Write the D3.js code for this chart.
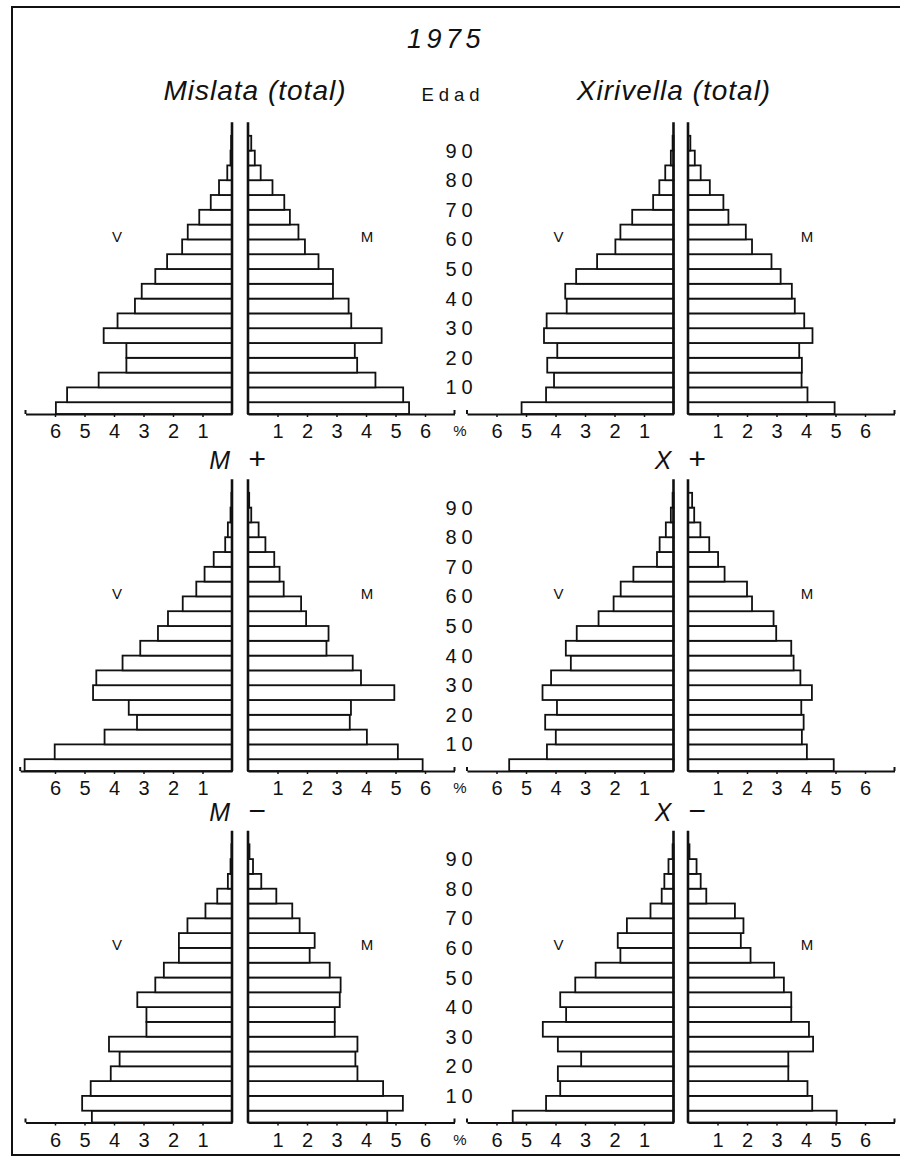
<!DOCTYPE html>
<html>
<head>
<meta charset="utf-8">
<script src="https://cdn.jsdelivr.net/npm/d3@7"></script>
<style>
  body { margin: 0; background: #fff; }
  text { font-family: "Liberation Sans", "DejaVu Sans", sans-serif; fill: #111; }
  .it { font-style: italic; }
</style>
</head>
<body>
<svg id="chart" width="900" height="1158"></svg>
<script>
// age groups (lower bound of each 5-year class)
var ageGroups = [0, 5, 10, 15, 20, 25, 30, 35, 40, 45, 50, 55, 60, 65, 70, 75, 80, 85, 90];
var ageLabels = [10, 20, 30, 40, 50, 60, 70, 80, 90];
var pctTicks = [1, 2, 3, 4, 5, 6];

// % of population, V = varones (left), M = mujeres (right)
var mislataV   = [5.97, 5.59, 4.52, 3.58, 3.58, 4.35, 3.88, 3.29, 3.06, 2.60, 2.20, 1.69, 1.50, 1.11, 0.72, 0.44, 0.16, 0.05, 0.03];
var mislataM   = [5.46, 5.26, 4.32, 3.70, 3.62, 4.53, 3.50, 3.41, 2.88, 2.88, 2.39, 1.93, 1.71, 1.42, 1.23, 0.83, 0.43, 0.23, 0.11];
var xirivellaV = [5.15, 4.32, 4.05, 4.28, 3.94, 4.39, 4.30, 3.62, 3.67, 3.30, 2.59, 1.97, 1.80, 1.40, 0.69, 0.48, 0.28, 0.09, 0.03];
var xirivellaM = [4.97, 4.05, 3.85, 3.86, 3.77, 4.22, 3.94, 3.62, 3.52, 3.14, 2.83, 2.17, 1.96, 1.37, 1.20, 0.74, 0.43, 0.23, 0.08];
var mPlusV     = [7.03, 6.01, 4.32, 3.22, 3.50, 4.71, 4.60, 3.71, 3.11, 2.51, 2.17, 1.67, 1.21, 0.93, 0.62, 0.23, 0.14, 0.05, 0.02];
var mPlusM     = [5.92, 5.08, 4.03, 3.45, 3.49, 4.96, 3.83, 3.55, 2.66, 2.73, 1.97, 1.80, 1.21, 1.07, 0.89, 0.59, 0.36, 0.11, 0.04];
var xPlusV     = [5.57, 4.29, 3.99, 4.35, 3.95, 4.44, 4.15, 3.48, 3.65, 3.28, 2.54, 2.03, 1.79, 1.36, 0.56, 0.47, 0.26, 0.09, 0.03];
var xPlusM     = [4.94, 4.03, 3.86, 3.92, 3.84, 4.20, 3.81, 3.58, 3.50, 2.99, 2.90, 2.17, 2.00, 1.24, 1.02, 0.72, 0.42, 0.21, 0.14];
var mMinusV    = [4.75, 5.08, 4.79, 4.11, 3.81, 4.17, 2.90, 2.90, 3.21, 2.60, 2.31, 1.80, 1.80, 1.51, 0.90, 0.50, 0.14, 0.05, 0.02];
var mMinusM    = [4.72, 5.25, 4.58, 3.71, 3.64, 3.71, 2.94, 2.94, 3.11, 3.14, 2.77, 2.09, 2.26, 1.75, 1.50, 0.96, 0.45, 0.17, 0.05];
var xMinusV    = [5.45, 4.32, 3.84, 3.92, 3.13, 3.92, 4.43, 3.64, 3.84, 3.33, 2.64, 1.80, 1.89, 1.58, 0.78, 0.40, 0.31, 0.17, 0.03];
var xMinusM    = [5.04, 4.21, 4.05, 3.40, 3.40, 4.24, 4.10, 3.50, 3.50, 3.25, 2.92, 2.12, 1.79, 1.88, 1.59, 0.62, 0.43, 0.29, 0.05];

var svg = d3.select("#chart");

var pxPerPct = 29.5, pxPerYear = 2.96;
var cols = [{ vx: 232, mx: 248 }, { vx: 673.5, mx: 688 }];
var rowBase = [414, 771, 1122.5];

var panels = [
  { col: 0, row: 0, v: mislataV,   m: mislataM,   title: "Mislata (total)",   tx: 255 },
  { col: 1, row: 0, v: xirivellaV, m: xirivellaM, title: "Xirivella (total)", tx: 674 },
  { col: 0, row: 1, v: mPlusV,  m: mPlusM,  letter: "M", sign: "+" },
  { col: 1, row: 1, v: xPlusV,  m: xPlusM,  letter: "X", sign: "+" },
  { col: 0, row: 2, v: mMinusV, m: mMinusM, letter: "M", sign: "\u2212" },
  { col: 1, row: 2, v: xMinusV, m: xMinusM, letter: "X", sign: "\u2212" }
];

// frame
svg.append("path")
  .attr("d", "M900,7H12V1155H900")
  .attr("fill", "none").attr("stroke", "#111").attr("stroke-width", 2);

svg.append("text").attr("class", "it")
  .attr("x", 446).attr("y", 48).attr("text-anchor", "middle")
  .attr("font-size", 27).attr("letter-spacing", 4.5)
  .text("1975");

svg.append("text")
  .attr("x", 453).attr("y", 101).attr("text-anchor", "middle")
  .attr("font-size", 18.5).attr("letter-spacing", 5)
  .text("Edad");

panels.forEach(function (p) {
  var c = cols[p.col], base = rowBase[p.row];
  var g = svg.append("g");

  var y = d3.scaleLinear().domain([0, 100]).range([base + 3, base + 3 - 100 * pxPerYear]);
  var vMax = Math.max(7, d3.max(p.v) + 0.15), mMax = Math.max(7, d3.max(p.m) + 0.15);
  var xV = d3.scaleLinear().domain([0, vMax]).range([c.vx, c.vx - vMax * pxPerPct]);
  var xM = d3.scaleLinear().domain([0, mMax]).range([c.mx, c.mx + mMax * pxPerPct]);

  function bars(vals, x, cls) {
    g.selectAll("rect." + cls)
      .data(ageGroups.map(function (a, i) { return { age: a, val: vals[i] }; }))
      .enter().append("rect")
      .attr("class", cls)
      .attr("x", function (d) { return Math.min(x(0), x(d.val)); })
      .attr("width", function (d) { return Math.abs(x(d.val) - x(0)); })
      .attr("y", function (d) { return y(d.age + 5); })
      .attr("height", function (d) { return Math.min(y(d.age), base) - y(d.age + 5); })
      .attr("fill", "#fff").attr("stroke", "#111").attr("stroke-width", 1.8);
  }
  bars(p.v, xV, "v");
  bars(p.m, xM, "m");

  // axes
  [[xV, vMax], [xM, mMax]].forEach(function (s) {
    var ax = g.append("g").attr("transform", "translate(0," + base + ")")
      .call(d3.axisBottom(s[0]).tickValues(pctTicks).tickFormat(d3.format("d"))
        .tickSize(3).tickSizeOuter(0).tickPadding(7));
    ax.attr("font-family", null).attr("font-size", null);
    ax.select(".domain").attr("stroke", "#111").attr("stroke-width", 2);
    ax.selectAll(".tick line").attr("stroke", "#111").attr("stroke-width", 1.5);
    ax.selectAll(".tick text").attr("font-size", 20).attr("fill", "#111");
    ax.append("line")
      .attr("x1", s[0](s[1])).attr("x2", s[0](s[1]))
      .attr("y1", 0).attr("y2", -4)
      .attr("stroke", "#111").attr("stroke-width", 2);
  });

  // centre lines
  [c.vx, c.mx].forEach(function (cx) {
    g.append("line")
      .attr("x1", cx).attr("x2", cx)
      .attr("y1", base).attr("y2", y(99.6))
      .attr("stroke", "#111").attr("stroke-width", 2.6);
  });

  // sex labels
  g.append("text").attr("x", c.vx - 115).attr("y", y(61) + 5.5)
    .attr("text-anchor", "middle").attr("font-size", 15).text("V");
  g.append("text").attr("x", c.mx + 119).attr("y", y(61) + 5.5)
    .attr("text-anchor", "middle").attr("font-size", 15).text("M");

  // titles
  if (p.title) {
    g.append("text").attr("class", "it")
      .attr("x", p.tx).attr("y", base - 314).attr("text-anchor", "middle")
      .attr("font-size", 28).attr("letter-spacing", 1)
      .text(p.title);
  } else {
    g.append("text").attr("class", "it")
      .attr("x", c.vx - 2).attr("y", base - 302).attr("text-anchor", "end")
      .attr("font-size", 25).text(p.letter);
    g.append("text").attr("class", "it")
      .attr("x", c.mx).attr("y", base - 302).attr("text-anchor", "start")
      .attr("font-size", 30).text(p.sign);
  }

  // age labels (only between the two columns)
  if (p.col === 1) {
    g.selectAll("text.age")
      .data(ageLabels).enter().append("text")
      .attr("class", "age")
      .attr("x", 459 + 2.5).attr("y", function (d) { return y(d) + 7; })
      .attr("text-anchor", "middle").attr("font-size", 20).attr("letter-spacing", 5)
      .text(function (d) { return d; });
    g.append("text")
      .attr("x", 460).attr("y", base + 22)
      .attr("text-anchor", "middle").attr("font-size", 15)
      .text("%");
  }
});
</script>
</body>
</html>
